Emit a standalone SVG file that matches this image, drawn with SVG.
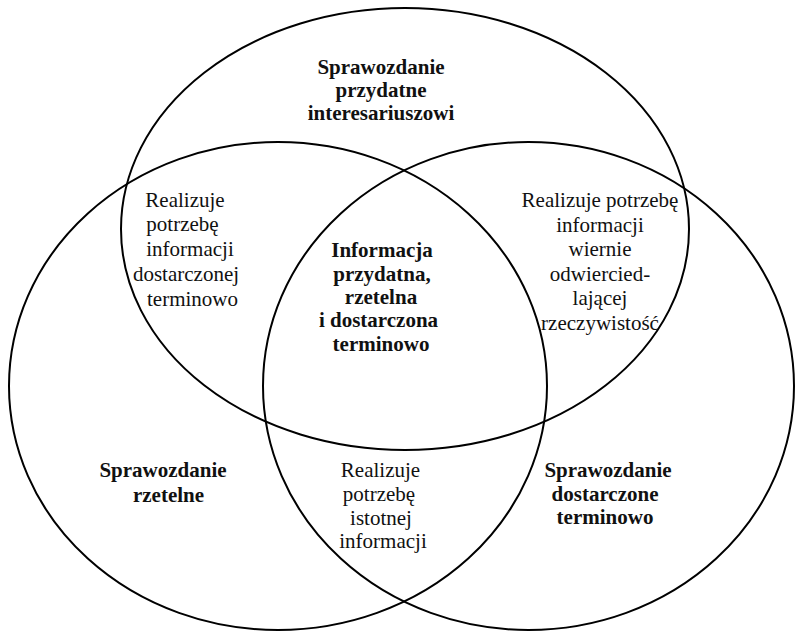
<svg xmlns="http://www.w3.org/2000/svg" width="795" height="632" viewBox="0 0 795 632">
<style>
.set{fill:none;stroke:#000;stroke-width:2}
.t{font-family:'Liberation Serif','DejaVu Serif',serif;font-size:21px;fill:#111;text-anchor:middle}
.b{font-weight:bold}
</style>
<rect width="795" height="632" fill="#fff"/>
<g id="set-przydatne">
<ellipse class="set" cx="405" cy="229" rx="284" ry="221"/>
<text class="t b" font-family="Liberation Serif, serif"><tspan x="381" y="74">Sprawozdanie</tspan><tspan x="381" y="97">przydatne</tspan><tspan x="381" y="120">interesariuszowi</tspan></text>
</g>
<g id="set-rzetelne">
<ellipse class="set" cx="278" cy="386" rx="269" ry="244"/>
<text class="t b" font-family="Liberation Serif, serif"><tspan x="163" y="477">Sprawozdanie</tspan><tspan x="168.5" y="501.5">rzetelne</tspan></text>
</g>
<g id="set-terminowo">
<ellipse class="set" cx="528.5" cy="386" rx="265.5" ry="244"/>
<text class="t b" font-family="Liberation Serif, serif"><tspan x="608" y="477">Sprawozdanie</tspan><tspan x="605" y="500.5">dostarczone</tspan><tspan x="605" y="524">terminowo</tspan></text>
</g>
<g id="overlap-przydatne-terminowo">
<text class="t" font-family="Liberation Serif, serif"><tspan x="185" y="206.5">Realizuje</tspan><tspan x="182.5" y="231">potrzebę</tspan><tspan x="190" y="256">informacji</tspan><tspan x="186" y="281">dostarczonej</tspan><tspan x="192.5" y="306">terminowo</tspan></text>
</g>
<g id="overlap-przydatne-rzetelne">
<text class="t" font-family="Liberation Serif, serif"><tspan x="600" y="207">Realizuje potrzebę</tspan><tspan x="600" y="232">informacji</tspan><tspan x="600" y="256">wiernie</tspan><tspan x="600" y="281">odwiercied-</tspan><tspan x="600" y="305">lającej</tspan><tspan x="600" y="330">rzeczywistość</tspan></text>
</g>
<g id="overlap-rzetelne-terminowo">
<text class="t" font-family="Liberation Serif, serif"><tspan x="380.5" y="477">Realizuje</tspan><tspan x="379" y="501">potrzebę</tspan><tspan x="381" y="524.5">istotnej</tspan><tspan x="383" y="548">informacji</tspan></text>
</g>
<g id="center">
<text class="t b" font-family="Liberation Serif, serif"><tspan x="382" y="257">Informacja</tspan><tspan x="382" y="280.5">przydatna,</tspan><tspan x="381" y="304">rzetelna</tspan><tspan x="378.5" y="327">i dostarczona</tspan><tspan x="381" y="350.5">terminowo</tspan></text>
</g>
<g id="connectors"/>
</svg>
